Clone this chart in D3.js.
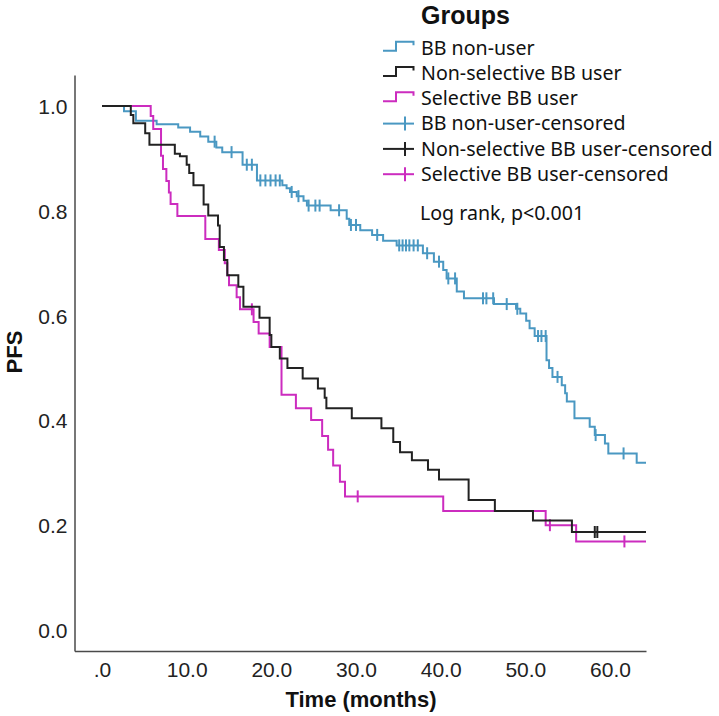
<!DOCTYPE html>
<html>
<head>
<meta charset="utf-8">
<script src="https://cdn.jsdelivr.net/npm/d3@7"></script>
<style>
  html, body { margin: 0; padding: 0; background: #fff; }
  svg { display: block; }
</style>
</head>
<body>
<svg id="chart" width="719" height="716"></svg>
<script>
// ---- Data ----
const groups = ["BB non-user", "Non-selective BB user", "Selective BB user"];
const legendLabels = [
  "BB non-user", "Non-selective BB user", "Selective BB user",
  "BB non-user-censored", "Non-selective BB user-censored", "Selective BB user-censored"
];
const xTicks = [0, 10, 20, 30, 40, 50, 60];
const yTicks = [0, 0.2, 0.4, 0.6, 0.8, 1.0];

const blueTimes = [0, 2.6, 4.0, 6.45, 9.0, 10.4, 11.6, 12.55, 13.5, 14.2, 16.6, 18.3, 21.3, 21.8, 22.2, 23.0, 23.8, 24.2, 27.0, 28.9, 29.2, 30.5, 31.9, 33.2, 34.8, 37.9, 39.2, 40.3, 40.7, 41.9, 42.75, 46.3, 48.9, 49.4, 50.1, 50.5, 51.1, 52.5, 52.8, 53.2, 54.3, 54.7, 54.9, 55.8, 57.6, 58.2, 59.4, 59.8, 63.15];
const blueSurv  = [1.0, 0.990, 0.972, 0.965, 0.959, 0.951, 0.942, 0.932, 0.921, 0.912, 0.888, 0.858, 0.849, 0.843, 0.836, 0.828, 0.819, 0.810, 0.801, 0.785, 0.773, 0.763, 0.754, 0.743, 0.734, 0.719, 0.703, 0.687, 0.671, 0.646, 0.633, 0.622, 0.613, 0.604, 0.590, 0.576, 0.561, 0.515, 0.500, 0.483, 0.467, 0.452, 0.436, 0.404, 0.388, 0.372, 0.356, 0.337, 0.319];
const blueCensor = [13.3, 15.3, 17.1, 17.7, 18.7, 19.3, 19.9, 20.5, 21.0, 22.4, 23.2, 24.4, 25.2, 25.7, 28.0, 29.4, 30.0, 32.5, 35.1, 35.5, 35.9, 36.3, 36.8, 37.3, 38.4, 39.8, 40.9, 41.7, 45.0, 45.4, 46.2, 47.8, 49.05, 51.5, 51.9, 52.4, 53.8, 58.3, 61.6];

const blackTimes = [0, 3.4, 3.7, 5.1, 5.6, 8.6, 9.2, 10.0, 10.3, 10.8, 12.0, 12.55, 13.7, 13.9, 14.4, 14.8, 16.1, 16.7, 18.6, 19.8, 20.0, 21.0, 21.9, 23.7, 25.5, 26.3, 26.5, 29.5, 33.0, 34.4, 35.2, 36.6, 38.5, 39.8, 43.3, 46.4, 50.9, 55.5];
const blackSurv  = [1.0, 0.983, 0.967, 0.948, 0.926, 0.909, 0.904, 0.888, 0.872, 0.849, 0.812, 0.791, 0.772, 0.731, 0.706, 0.677, 0.655, 0.617, 0.596, 0.563, 0.540, 0.518, 0.500, 0.480, 0.461, 0.443, 0.423, 0.404, 0.385, 0.359, 0.339, 0.324, 0.306, 0.287, 0.248, 0.227, 0.209, 0.187];
const blackCensor = [58.2, 58.5];

const magTimes = [0, 5.75, 6.05, 6.97, 7.2, 7.6, 7.9, 8.1, 8.9, 12.2, 13.8, 14.5, 14.8, 15.0, 15.9, 16.3, 17.9, 18.5, 19.8, 21.2, 22.9, 24.7, 26.0, 26.7, 27.3, 28.1, 28.7, 40.3, 52.4, 56.0];
const magSurv  = [1.0, 0.981, 0.956, 0.905, 0.880, 0.857, 0.835, 0.813, 0.790, 0.746, 0.725, 0.700, 0.677, 0.658, 0.635, 0.612, 0.588, 0.566, 0.540, 0.449, 0.423, 0.401, 0.370, 0.344, 0.314, 0.283, 0.255, 0.227, 0.200, 0.169];
const magCensor = [17.7, 30.2, 52.9, 61.7];

const colors = ["#4a98c2", "#222222", "#cc2cbf"];

// ---- Layout ----
const svg = d3.select("#chart");
const xMin = -3.25, xMax = 64.25;
const x = d3.scaleLinear().domain([xMin, xMax]).range([74.5, 646]);
const y = d3.scaleLinear().domain([-0.0401, 1.0592]).range([651, 75]);

const series = [
  { name: groups[0], t: blueTimes, s: blueSurv, c: blueCensor, color: colors[0] },
  { name: groups[1], t: blackTimes, s: blackSurv, c: blackCensor, color: colors[1] },
  { name: groups[2], t: magTimes, s: magSurv, c: magCensor, color: colors[2] }
];

function survAt(sr, time) {
  let v = sr.s[0];
  for (let i = 0; i < sr.t.length; i++) { if (sr.t[i] <= time) v = sr.s[i]; }
  return v;
}

const line = d3.line().x(d => x(d[0])).y(d => y(d[1])).curve(d3.curveStepAfter);

// Axes
const xAxis = d3.axisBottom(x).tickValues(xTicks).tickSize(0).tickPadding(11)
  .tickFormat(d => d === 0 ? ".0" : d3.format(".1f")(d));
const gx = svg.append("g").attr("transform", "translate(0,651)").call(xAxis);
gx.select(".domain").attr("stroke", "#4a4a4a").attr("stroke-width", 1.5);
gx.selectAll("text").attr("font-family", "Liberation Sans, Arial, sans-serif")
  .attr("font-size", 21).attr("fill", "#222");

const yAxis = d3.axisLeft(y).tickValues(yTicks).tickSize(0).tickPadding(7)
  .tickFormat(d3.format(".1f"));
const gy = svg.append("g").attr("transform", "translate(74.5,0)").call(yAxis);
gy.select(".domain").attr("stroke", "#4a4a4a").attr("stroke-width", 1.5);
gy.selectAll("text").attr("font-family", "Liberation Sans, Arial, sans-serif")
  .attr("font-size", 21).attr("fill", "#222").attr("dy", "0.36em");

// Axis titles
svg.append("text").attr("x", 361).attr("y", 707).attr("text-anchor", "middle")
  .attr("font-family", "Liberation Sans, Arial, sans-serif").attr("font-weight", "bold")
  .attr("font-size", 22).attr("fill", "#111").text("Time (months)");
svg.append("text").attr("transform", "translate(22,352) rotate(-90)")
  .attr("text-anchor", "middle")
  .attr("font-family", "Liberation Sans, Arial, sans-serif").attr("font-weight", "bold")
  .attr("font-size", 22).attr("fill", "#111").text("PFS");

// Curves: draw order blue, magenta, black
const order = [0, 2, 1];
order.forEach(i => {
  const sr = series[i];
  const pts = sr.t.map((t, k) => [t, sr.s[k]]);
  pts.push([xMax, sr.s[sr.s.length - 1]]);
  svg.append("path").attr("d", line(pts)).attr("fill", "none")
    .attr("stroke", sr.color).attr("stroke-width", 2);
  svg.append("g").selectAll("line").data(sr.c).join("line")
    .attr("x1", d => x(d)).attr("x2", d => x(d))
    .attr("y1", d => y(survAt(sr, d)) - 6).attr("y2", d => y(survAt(sr, d)) + 6)
    .attr("stroke", sr.color).attr("stroke-width", 2);
});

// Legend
const lg = svg.append("g");
lg.append("text").attr("x", 421).attr("y", 24)
  .attr("font-family", "Liberation Sans, Arial, sans-serif").attr("font-weight", "bold")
  .attr("font-size", 25).attr("fill", "#111").text("Groups");
legendLabels.forEach((lab, i) => {
  const cy = 47.7 + i * 25.3;
  const col = colors[i % 3];
  if (i < 3) {
    lg.append("path")
      .attr("d", `M383,${cy + 3}H396V${cy - 6}H413.5V${cy - 2.5}`)
      .attr("fill", "none").attr("stroke", col).attr("stroke-width", 2);
  } else {
    lg.append("line").attr("x1", 383).attr("x2", 414).attr("y1", cy).attr("y2", cy)
      .attr("stroke", col).attr("stroke-width", 2);
    lg.append("line").attr("x1", 405).attr("x2", 405).attr("y1", cy - 7).attr("y2", cy + 7)
      .attr("stroke", col).attr("stroke-width", 2);
  }
  lg.append("text").attr("x", 421).attr("y", cy).attr("dy", "0.35em")
    .attr("font-family", "Noto Sans, Open Sans, sans-serif")
    .attr("font-size", 19.6).attr("fill", "#111").text(lab);
});

svg.append("text").attr("x", 420).attr("y", 213).attr("dy", "0.35em")
  .attr("font-family", "Noto Sans, Open Sans, sans-serif")
  .attr("font-size", 19.6).attr("fill", "#111").text("Log rank, p<0.001");
</script>
</body>
</html>
